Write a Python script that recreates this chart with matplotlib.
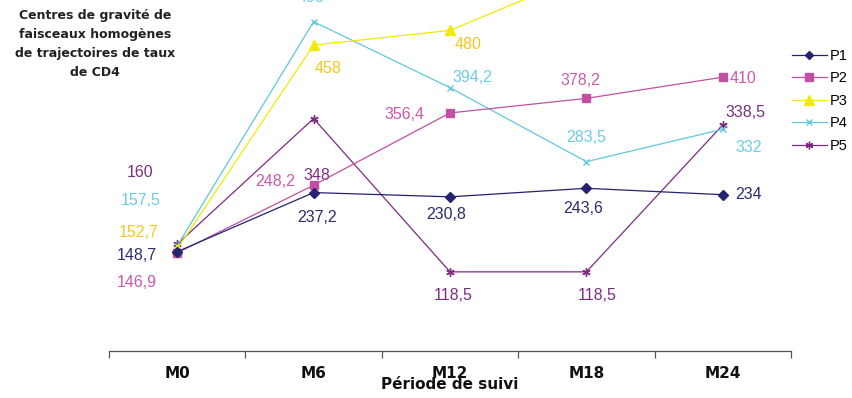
import matplotlib
matplotlib.use("Agg")
import matplotlib.pyplot as plt
from matplotlib.lines import Line2D

plt.rcParams['font.family'] = ['Liberation Sans', 'DejaVu Sans']

periods = ["M0", "M6", "M12", "M18", "M24"]
p1 = [148.7, 237.2, 230.8, 243.6, 234]
p2 = [146.9, 248.2, 356.4, 378.2, 410]
p3 = [152.7, 458, 480, 565, 590]
p4 = [157.5, 493, 394.2, 283.5, 332]
p5 = [160, 348, 118.5, 118.5, 338.5]
series_names = ["P1", "P2", "P3", "P4", "P5"]

line_colors = ["#232370", "#C24FA2", "#F2EA00", "#5FC8DD", "#7E2A82"]
label_colors = ["#2C2C6E", "#C85AAA", "#F2C81A", "#6CCCE0", "#7E2D82"]
markers = ["D", "s", "^", "x", (6, 2, 0)]
msizes = [5, 6, 7, 5, 6]

# label offsets in pixels (dx, dy) relative to each point
offsets = [
    [(-40, -4), (3, -25), (-4, -18), (-3, -20), (26, 0)],
    [(-40, -30), (-38, 4), (-46, -2), (-6, 18), (20, -1)],
    [(-39, 17), (14, -23), (18, -14), (22, -20), (22, -20)],
    [(-37, 45), (-3, 24), (22, 10), (0, 24), (26, -18)],
    [(-37, 72), (3, -57), (3, -24), (11, -24), (23, 12)],
]

def fmt(v):
    return ("%g" % v).replace(".", ",")

fig = plt.figure(figsize=(8.53, 3.98), dpi=100)
ax = fig.add_axes([109 / 853, 1 - 351 / 398, 682 / 853, 351 / 398])

data = [p1, p2, p3, p4, p5]
x = list(range(len(periods)))
for i, vals in enumerate(data):
    ax.plot(x, vals, color=line_colors[i], lw=0.9, marker=markers[i],
            ms=msizes[i], mec=line_colors[i], mfc=line_colors[i],
            mew=1.0, label=series_names[i], zorder=3 + (4 - i) * 0.1)
    for j, v in enumerate(vals):
        dx, dy = offsets[i][j]
        ax.annotate(fmt(v), (j, v), xytext=(dx, dy), textcoords="offset pixels",
                    ha="center", va="center", fontsize=11.5,
                    color=label_colors[i], annotation_clip=False)

ax.set_xlim(-0.5, 4.5)
ax.set_ylim(0, 525.5)
for s in ["left", "top", "right"]:
    ax.spines[s].set_visible(False)
ax.spines["bottom"].set_color("#555555")
ax.spines["bottom"].set_linewidth(0.9)
ax.set_yticks([])

ax.set_xticks([k - 0.5 for k in range(6)])
ax.set_xticklabels([])
ax.tick_params(axis="x", which="major", length=5, width=0.9, color="#555555",
               direction="out")
ax.set_xticks(x, minor=True)
ax.set_xticklabels(periods, minor=True, fontsize=11, fontweight="bold",
                   family="DejaVu Sans", color="#111111")
ax.tick_params(axis="x", which="minor", length=0, pad=11)
ax.set_xlabel("Période de suivi", fontsize=11, fontweight="bold",
              family="DejaVu Sans", labelpad=-3, color="#111111")

fig.text(95 / 853, 1 - 9 / 398,
         "Centres de gravité de\nfaisceaux homogènes\nde trajectoires de taux\nde CD4",
         ha="center", va="top", fontsize=9, fontweight="bold",
         family="DejaVu Sans", linespacing=1.6, color="#222222")

handles = [Line2D([0], [0], color=line_colors[i], lw=0.9, marker=markers[i],
                  ms=msizes[i] - 0.5, mec=line_colors[i], mfc=line_colors[i])
           for i in range(5)]
fig.legend(handles, series_names, loc="upper left",
           bbox_to_anchor=(786 / 853, 1 - 43 / 398), frameon=False,
           fontsize=10.5, handlelength=2.4, handletextpad=0.2,
           labelspacing=0.58, borderaxespad=0)

fig.savefig("out.png", dpi=100)
